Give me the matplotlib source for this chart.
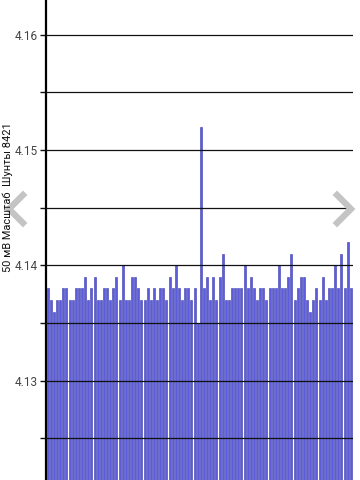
import matplotlib
matplotlib.use("Agg")
import matplotlib.pyplot as plt
import numpy as np
from matplotlib.lines import Line2D

# Shunt readings (one bar per sample)
values = [
    4.138, 4.137, 4.136, 4.137, 4.137, 4.138, 4.138, 4.137, 4.137, 4.138,
    4.138, 4.138, 4.139, 4.137, 4.138, 4.139, 4.137,
    4.137, 4.138, 4.138, 4.137, 4.138, 4.139, 4.137, 4.140, 4.137,
    4.137, 4.139, 4.139, 4.138, 4.137, 4.137, 4.138, 4.137,
    4.138, 4.137, 4.138, 4.138, 4.137, 4.139, 4.138, 4.140, 4.138, 4.137,
    4.138, 4.138, 4.137, 4.138, 4.135,
    4.152,
    4.138, 4.139, 4.137, 4.139, 4.137, 4.139, 4.141, 4.137, 4.137, 4.138,
    4.138, 4.138, 4.138, 4.140, 4.138, 4.139, 4.138, 4.137,
    4.138, 4.138, 4.137, 4.138, 4.138, 4.138, 4.140, 4.138, 4.138, 4.139,
    4.141, 4.137, 4.138, 4.139, 4.139, 4.137, 4.136,
    4.137, 4.138, 4.137, 4.139, 4.137, 4.138, 4.138, 4.140, 4.138, 4.141,
    4.138, 4.142, 4.138,
]
y_ticks = [4.125, 4.13, 4.135, 4.14, 4.145, 4.15, 4.155, 4.16]
y_labels = ["", "4.13", "", "4.14", "", "4.15", "", "4.16"]
y_title = "50 мВ Масштаб  Шунты 8421"

plt.rcParams["font.family"] = ["Roboto", "DejaVu Sans"]

fig = plt.figure(figsize=(3.6, 4.8), dpi=100)
ax = fig.add_axes([46 / 360, 0.0, 307 / 360, 1.0])

x = np.arange(len(values))
ax.bar(x, values, width=0.62, color="#5c5cdc", edgecolor="#3a3ab0",
       linewidth=0.4, zorder=2)

ax.set_xlim(-0.55, len(values) - 0.3)
ax.set_ylim(4.1214, 4.163)

for t in y_ticks:
    ax.axhline(t, color="#111111", linewidth=0.9, zorder=3)

ax.set_yticks(y_ticks)
ax.set_yticklabels(y_labels, fontsize=8.5, color="#444444")
ax.tick_params(axis="y", length=4, width=1, color="#111111", pad=2)
ax.set_xticks([])

for side in ["top", "right", "bottom"]:
    ax.spines[side].set_visible(False)
ax.spines["left"].set_linewidth(1.6)
ax.spines["left"].set_color("black")

fig.text(8 / 360, 1 - 197 / 480, y_title, rotation=90, fontsize=7.9,
         ha="center", va="center", color="#111111")

# navigation chevrons
gray = "#c4c4c4"
fig.add_artist(Line2D([23 / 360, 9 / 360, 23 / 360],
                      [1 - 195 / 480, 1 - 209 / 480, 1 - 223 / 480],
                      color=gray, linewidth=4.5, solid_joinstyle="miter"))
fig.add_artist(Line2D([337 / 360, 351 / 360, 337 / 360],
                      [1 - 195 / 480, 1 - 209 / 480, 1 - 223 / 480],
                      color=gray, linewidth=4.5, solid_joinstyle="miter"))

fig.savefig("out.png", dpi=100)
